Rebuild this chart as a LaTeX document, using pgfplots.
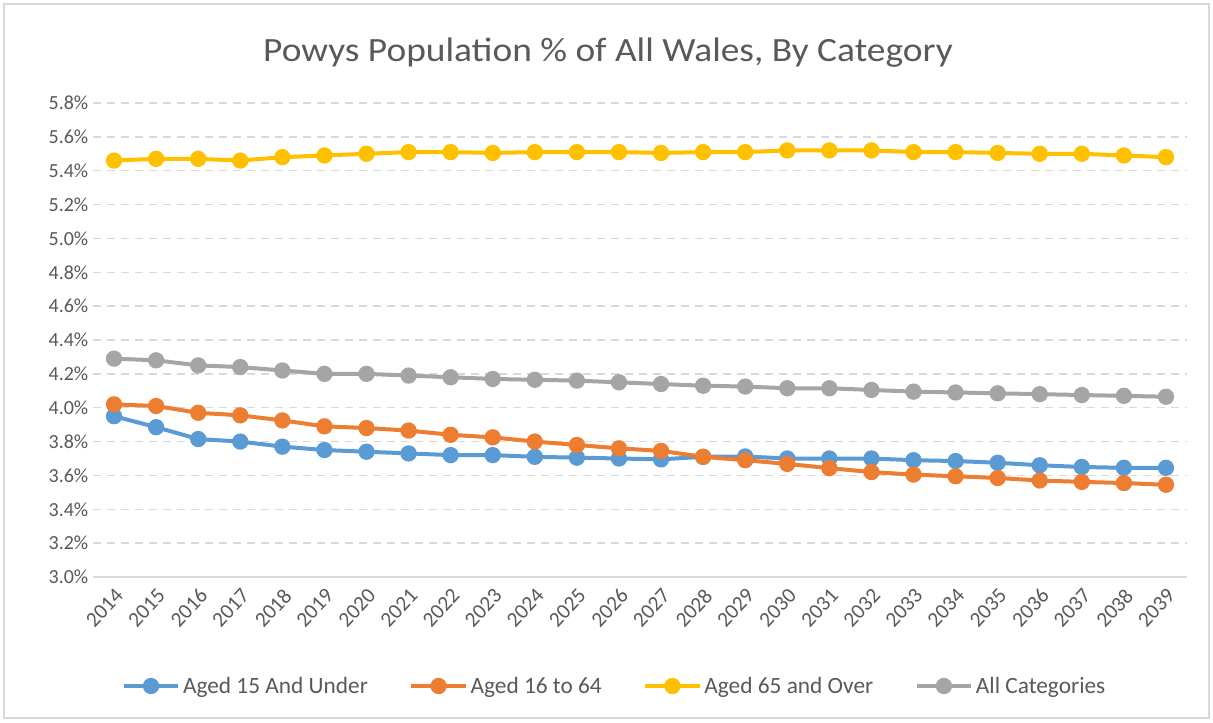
\documentclass[border=0pt]{standalone}
\usepackage{fontspec}
\setmainfont{Carlito}
\newfontfamily\titlefont{Carlito}[FakeStretch=1.1]
\usepackage{pgfplots}
\pgfplotsset{compat=1.18}
\definecolor{cBlue}{HTML}{5B9BD5}
\definecolor{cOrange}{HTML}{ED7D31}
\definecolor{cYellow}{HTML}{FFC000}
\definecolor{cGray}{HTML}{A5A5A5}
\definecolor{txt}{HTML}{595959}
\definecolor{gridc}{HTML}{D9D9D9}
\begin{document}
\begin{tikzpicture}
\begin{axis}[
  scale only axis,
  width=820.5pt, height=355.5pt,
  xmin=2013.5, xmax=2039.5,
  ymin=3.0, ymax=5.8,
  ytick={3.0,3.2,...,5.81},
  xtick={2014,...,2039},
  axis x line*=bottom, axis y line*=left,
  y axis line style={draw=none},
  x axis line style={-, draw=gridc, line width=1.2pt},
  major tick length=0pt,
  ymajorgrids,
  grid style={dashed, dash pattern=on 6pt off 4.5pt, gridc, line width=1.1pt},
  /pgf/number format/assume math mode=true,
  tick label style={font=\fontsize{15}{17}\selectfont, text=txt},
  yticklabel={\pgfmathprintnumber[fixed,fixed zerofill,precision=1]{\tick}\%},
  xticklabel={\pgfmathprintnumber[1000 sep={}]{\tick}},
  x tick label style={rotate=47, anchor=north east, font=\fontsize{16}{18}\selectfont, inner sep=1pt},
  xticklabel shift=6pt,
  clip=false,
  legend columns=4,
  legend style={draw=none, fill=none, at={(axis description cs:0.477,-0.23)}, anchor=center,
    font=\fontsize{17.5}{20}\selectfont, text=txt, inner sep=0pt,
    /tikz/every even column/.append style={column sep=29pt},
    /tikz/every odd column/.append style={column sep=0pt}},
  legend image code/.code={
    \draw[#1, mark=none] (0pt,0pt) -- (41pt,0pt);
    \draw[#1, only marks] plot coordinates {(20.5pt,0pt)};
  },
  every axis plot/.append style={line width=3pt, mark=*, mark size=4.6pt},
]
\addplot[cBlue, mark options={fill=cBlue, draw=cBlue}] coordinates {
(2014,3.95)(2015,3.885)(2016,3.815)(2017,3.80)(2018,3.77)(2019,3.75)(2020,3.74)(2021,3.73)(2022,3.72)(2023,3.72)(2024,3.71)(2025,3.705)(2026,3.70)(2027,3.695)(2028,3.71)(2029,3.712)(2030,3.70)(2031,3.70)(2032,3.70)(2033,3.69)(2034,3.685)(2035,3.675)(2036,3.66)(2037,3.65)(2038,3.645)(2039,3.645)};
\addlegendentry{Aged 15 And Under}
\addplot[cOrange, mark options={fill=cOrange, draw=cOrange}] coordinates {
(2014,4.02)(2015,4.01)(2016,3.97)(2017,3.955)(2018,3.925)(2019,3.89)(2020,3.88)(2021,3.865)(2022,3.84)(2023,3.825)(2024,3.80)(2025,3.78)(2026,3.76)(2027,3.745)(2028,3.71)(2029,3.69)(2030,3.668)(2031,3.643)(2032,3.62)(2033,3.605)(2034,3.595)(2035,3.585)(2036,3.57)(2037,3.562)(2038,3.555)(2039,3.545)};
\addlegendentry{Aged 16 to 64}
\addplot[cYellow, mark options={fill=cYellow, draw=cYellow}] coordinates {
(2014,5.46)(2015,5.47)(2016,5.47)(2017,5.46)(2018,5.48)(2019,5.49)(2020,5.50)(2021,5.51)(2022,5.51)(2023,5.505)(2024,5.51)(2025,5.51)(2026,5.51)(2027,5.505)(2028,5.51)(2029,5.51)(2030,5.52)(2031,5.52)(2032,5.52)(2033,5.51)(2034,5.51)(2035,5.505)(2036,5.50)(2037,5.50)(2038,5.49)(2039,5.48)};
\addlegendentry{Aged 65 and Over}
\addplot[cGray, mark options={fill=cGray, draw=cGray}] coordinates {
(2014,4.29)(2015,4.28)(2016,4.25)(2017,4.24)(2018,4.22)(2019,4.20)(2020,4.20)(2021,4.19)(2022,4.18)(2023,4.17)(2024,4.165)(2025,4.16)(2026,4.15)(2027,4.14)(2028,4.13)(2029,4.125)(2030,4.115)(2031,4.115)(2032,4.105)(2033,4.095)(2034,4.09)(2035,4.085)(2036,4.08)(2037,4.075)(2038,4.07)(2039,4.065)};
\addlegendentry{All Categories}
\coordinate (SW) at (rel axis cs:0,0);
\coordinate (NE) at (rel axis cs:1,1);
\end{axis}
\node[text=txt, font=\titlefont\fontsize{25.5}{28}\selectfont] at ([shift={(386.25pt,393pt)}]SW) {Powys Population \% of All Wales, By Category};
\useasboundingbox ([shift={(-69.75pt,-108.75pt)}]SW) rectangle ([shift={(19.5pt,77.25pt)}]NE);
\draw[gridc, line width=0.8pt] ([shift={(-66.75pt,-105.75pt)}]SW) rectangle ([shift={(16.5pt,74.25pt)}]NE);
\end{tikzpicture}
\end{document}
